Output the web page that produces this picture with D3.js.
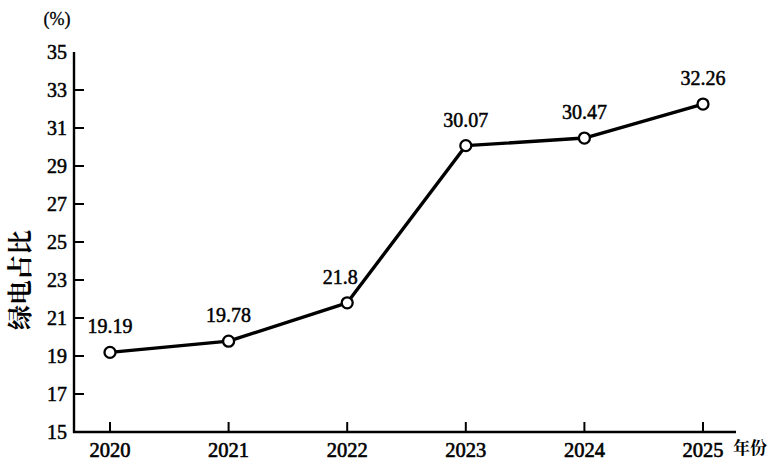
<!DOCTYPE html>
<html><head><meta charset="utf-8">
<script src="https://cdn.jsdelivr.net/npm/d3@7"></script>
<style>body{margin:0;background:#fff}svg{display:block}</style>
</head><body>
<svg id="c" width="770" height="465"></svg>
<script>
const years = ["2020","2021","2022","2023","2024","2025"];
const values = [19.19, 19.78, 21.8, 30.07, 30.47, 32.26];
const labels = ["19.19","19.78","21.8","30.07","30.47","32.26"];
const yTicks = [15,17,19,21,23,25,27,29,31,33,35];

const SERIF = '"Liberation Serif"';
const CJK = '"Noto Serif CJK SC"';
const svg = d3.select("#c");
const x0 = 74, x1 = 736, yTop = 52, yBot = 432;
const x = d3.scalePoint().domain(years).range([110, 703]);
const y = d3.scaleLinear().domain([15, 35]).range([yBot, yTop]);

svg.append("line").attr("x1", x0).attr("x2", x0).attr("y1", yTop).attr("y2", yBot+1)
  .attr("stroke", "#000").attr("stroke-width", 2.4);
svg.append("line").attr("x1", x0-1).attr("x2", x1).attr("y1", yBot).attr("y2", yBot)
  .attr("stroke", "#000").attr("stroke-width", 2.4);

const yg = svg.append("g");
yTicks.forEach(t => {
  if (t !== 15 && t !== 35) {
    yg.append("line").attr("x1", x0).attr("x2", x0 + 10).attr("y1", y(t)).attr("y2", y(t))
      .attr("stroke", "#000").attr("stroke-width", 2);
  }
  yg.append("text").style("font-family", SERIF).attr("x", x0 - 7).attr("y", y(t)).attr("dy", "0.35em")
    .attr("text-anchor", "end").attr("font-size", 20)
    .attr("stroke", "#000").attr("stroke-width", 0.5)
    .text(t);
});

const xg = svg.append("g");
years.forEach(yr => {
  xg.append("line").attr("x1", x(yr)).attr("x2", x(yr)).attr("y1", yBot).attr("y2", yBot - 10)
    .attr("stroke", "#000").attr("stroke-width", 2);
  xg.append("text").style("font-family", SERIF).attr("x", x(yr)).attr("y", 457).attr("text-anchor", "middle")
    .attr("font-size", 20.5).attr("stroke", "#000").attr("stroke-width", 0.6).text(yr);
});

const line = d3.line().x((d, i) => x(years[i])).y(d => y(d));
svg.append("path").datum(values).attr("d", line).attr("fill", "none")
  .attr("stroke", "#000").attr("stroke-width", 3.4).attr("stroke-linejoin", "round");

svg.selectAll("circle.pt").data(values).enter().append("circle")
  .attr("cx", (d, i) => x(years[i])).attr("cy", d => y(d)).attr("r", 5.5)
  .attr("fill", "#fff").attr("stroke", "#000").attr("stroke-width", 2.3);

svg.selectAll("text.lbl").data(values).enter().append("text")
  .style("font-family", SERIF)
  .attr("x", (d, i) => x(years[i]) + (i === 2 ? -7 : 0))
  .attr("y", d => y(d) - 19)
  .attr("text-anchor", "middle").attr("font-size", 20)
  .attr("stroke", "#000").attr("stroke-width", 0.5)
  .text((d, i) => labels[i]);

svg.append("text").style("font-family", SERIF).attr("x", 57).attr("y", 25).attr("text-anchor", "middle")
  .attr("font-size", 18).attr("stroke", "#000").attr("stroke-width", 0.3).text("(%)");
svg.append("text").style("font-family", CJK).attr("x", 750).attr("y", 454).attr("text-anchor", "middle")
  .attr("font-size", 17).attr("font-weight", "bold").text("年份");
svg.append("text").style("font-family", CJK).attr("transform", "translate(29,280) rotate(-90)")
  .attr("text-anchor", "middle").attr("font-size", 25)
  .attr("font-weight", "bold").text("绿电占比");
</script>
</body></html>
